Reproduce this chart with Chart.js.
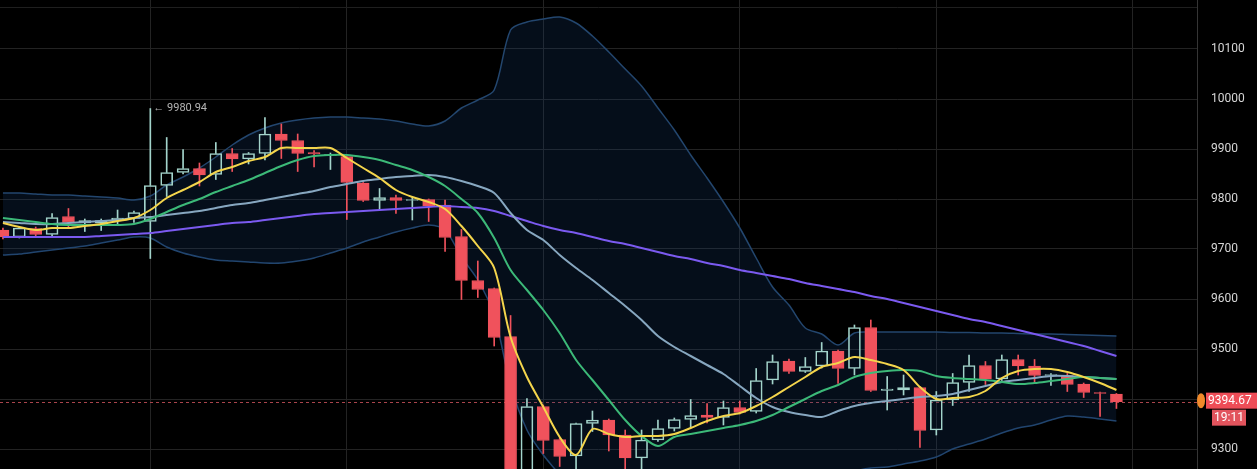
<!DOCTYPE html>
<html>
<head>
<meta charset="utf-8">
<script src="https://cdn.jsdelivr.net/npm/chart.js@4.4.1/dist/chart.umd.min.js"></script>
<style>
  html, body { margin: 0; padding: 0; background: #000; }
  #wrap { width: 1257px; height: 469px; position: relative; }
</style>
</head>
<body>
<div id="wrap"><canvas id="kline"></canvas></div>
<script>
// 5 min candles, x = candle index from the left edge
var opens = [9738, 9724, 9741, 9729, 9765, 9752, 9752, 9758, 9761, 9755,
  9827, 9853, 9861, 9849, 9891, 9880, 9891, 9930, 9917, 9893,
  9887, 9885, 9832, 9797, 9803, 9797, 9799, 9788, 9725, 9637,
  9621, 9525, 9215, 9385, 9319, 9286, 9351, 9358, 9328, 9282,
  9318, 9341, 9359, 9368, 9363, 9383, 9375, 9438, 9476, 9455,
  9466, 9496, 9461, 9543, 9417, 9418, 9423, 9338, 9398, 9433,
  9467, 9440, 9479, 9466, 9447, 9447, 9430, 9413, 9410];
var highs = [9742, 9744, 9744, 9771, 9781, 9760, 9760, 9778, 9776, 9980.94,
  9923, 9899, 9872, 9913, 9901, 9893, 9963, 9950, 9930, 9897,
  9892, 9888, 9833, 9821, 9808, 9803, 9800, 9798, 9739, 9676,
  9622, 9567, 9401, 9388, 9322, 9352, 9376, 9360, 9338, 9338,
  9358, 9362, 9399, 9391, 9396, 9396, 9461, 9488, 9480, 9483,
  9513, 9498, 9548, 9558, 9445, 9448, 9425, 9415, 9451, 9488,
  9475, 9488, 9488, 9479, 9451, 9451, 9432, 9414, 9411];
var lows = [9720, 9722, 9726, 9725, 9743, 9735, 9737, 9750, 9753, 9681,
  9805, 9850, 9826, 9839, 9855, 9870, 9878, 9881, 9855, 9864,
  9859, 9759, 9795, 9779, 9771, 9758, 9755, 9695, 9599, 9603,
  9506, 9190, 9200, 9291, 9265, 9250, 9335, 9296, 9250, 9250,
  9315, 9336, 9343, 9352, 9348, 9370, 9372, 9430, 9451, 9453,
  9462, 9431, 9448, 9415, 9378, 9408, 9303, 9328, 9387, 9415,
  9429, 9437, 9448, 9431, 9427, 9415, 9403, 9365, 9381];
var closes = [9724, 9742, 9729, 9763, 9753, 9757, 9757, 9762, 9773, 9827,
  9853, 9861, 9848, 9891, 9880, 9891, 9930, 9917, 9891, 9890,
  9889, 9833, 9797, 9803, 9797, 9799, 9786, 9723, 9637, 9619,
  9523, 9210, 9385, 9317, 9285, 9351, 9358, 9328, 9282, 9318,
  9341, 9359, 9367, 9363, 9383, 9373, 9437, 9475, 9455, 9465,
  9496, 9461, 9543, 9417, 9420, 9423, 9337, 9398, 9433, 9467,
  9440, 9479, 9466, 9447, 9449, 9429, 9413, 9411, 9394.67];

// moving averages
var ma5 = [9752, 9744, 9738, 9742, 9742, 9746, 9750, 9756, 9762, 9778,
  9802, 9818, 9834, 9854, 9864, 9876, 9884, 9902, 9902, 9902,
  9902, 9882, 9862, 9842, 9818, 9804, 9794, 9780, 9746, 9706,
  9662, 9524, 9444, 9384, 9324, 9288, 9340, 9330, 9324, 9326,
  9326, 9330, 9342, 9356, 9366, 9372, 9386, 9404, 9424, 9444,
  9464, 9472, 9484, 9478, 9470, 9458, 9424, 9400, 9402, 9404,
  9416, 9442, 9456, 9460, 9460, 9454, 9444, 9432, 9418];
var ma10 = [9762, 9758, 9754, 9750, 9748, 9748, 9748, 9748, 9750, 9760,
  9774, 9788, 9800, 9814, 9826, 9838, 9852, 9866, 9878, 9886,
  9888, 9888, 9884, 9878, 9868, 9858, 9844, 9826, 9800, 9772,
  9722, 9658, 9618, 9578, 9532, 9478, 9438, 9398, 9358, 9326,
  9306, 9324, 9330, 9336, 9342, 9348, 9356, 9368, 9384, 9400,
  9416, 9428, 9444, 9452, 9456, 9458, 9456, 9446, 9442, 9440,
  9438, 9434, 9430, 9432, 9436, 9440, 9444, 9442, 9440];
var ma60 = [9724, 9724, 9724, 9724, 9724, 9724, 9726, 9728, 9730, 9732,
  9736, 9740, 9744, 9748, 9752, 9754, 9758, 9762, 9766, 9770,
  9772, 9774, 9776, 9778, 9780, 9782, 9784, 9786, 9784, 9782,
  9776, 9766, 9756, 9746, 9738, 9732, 9724, 9716, 9710, 9702,
  9694, 9686, 9680, 9672, 9666, 9658, 9652, 9646, 9640, 9632,
  9626, 9620, 9614, 9606, 9600, 9592, 9584, 9576, 9568, 9560,
  9554, 9546, 9538, 9530, 9522, 9514, 9506, 9496, 9486];

// bollinger bands
var bbMid = [9754, 9752, 9750, 9750, 9752, 9754, 9756, 9758, 9762, 9764,
  9768, 9772, 9776, 9782, 9788, 9792, 9798, 9804, 9810, 9816,
  9824, 9830, 9836, 9840, 9844, 9846, 9848, 9844, 9836, 9826,
  9812, 9772, 9738, 9718, 9688, 9662, 9638, 9612, 9586, 9558,
  9526, 9504, 9486, 9468, 9450, 9426, 9402, 9384, 9374, 9368,
  9364, 9376, 9386, 9392, 9396, 9400, 9404, 9406, 9410, 9418,
  9426, 9434, 9438, 9442, 9446, 9446, 9444, 9442, 9440];
var bbUpper = [9812, 9812, 9810, 9808, 9808, 9806, 9804, 9802, 9798, 9806,
  9828, 9844, 9862, 9884, 9908, 9928, 9942, 9952, 9958, 9962,
  9964, 9964, 9962, 9960, 9956, 9950, 9946, 9956, 9982, 9998,
  10018, 10138, 10154, 10160, 10164, 10152, 10126, 10094, 10060, 10026,
  9982, 9938, 9888, 9842, 9794, 9742, 9682, 9624, 9588, 9542,
  9530, 9508, 9532, 9534, 9534, 9534, 9534, 9534, 9533, 9533,
  9532, 9532, 9531, 9530, 9530, 9529, 9528, 9527, 9526];
var bbLower = [9688, 9690, 9694, 9698, 9702, 9706, 9712, 9718, 9724, 9722,
  9704, 9692, 9684, 9678, 9676, 9674, 9672, 9672, 9676, 9682,
  9692, 9702, 9714, 9724, 9734, 9742, 9748, 9738, 9684, 9638,
  9568, 9428, 9338, 9288, 9248, 9200, 9160, 9120, 9090, 9070,
  9060, 9055, 9055, 9065, 9080, 9100, 9125, 9150, 9175, 9200,
  9220, 9240, 9255, 9262, 9264, 9270, 9276, 9284, 9300, 9310,
  9320, 9332, 9342, 9348, 9358, 9366, 9364, 9360, 9356];

var yTicks = [9300, 9400, 9500, 9600, 9700, 9800, 9900, 10000, 10100];
var hourMarks = [3, 15, 27, 39, 51, 63];
var lastTime = "19:11";
var lastClose = closes[closes.length - 1];

var upColor = "#a3d4cb";
var downColor = "#f0525c";

// split candles into bodies and wicks (one bar per x in each set)
var upBody = [], downBody = [], upHigh = [], upLow = [], downHigh = [], downLow = [];
closes.forEach(function (c, i) {
  var o = opens[i];
  var bodyHi = Math.max(o, c), bodyLo = Math.min(o, c);
  var rising = c >= o;
  (rising ? upBody : downBody).push({ x: i, y: [bodyLo, bodyHi] });
  if (highs[i] > bodyHi) (rising ? upHigh : downHigh).push({ x: i, y: [bodyHi, highs[i]] });
  if (lows[i] < bodyLo) (rising ? upLow : downLow).push({ x: i, y: [lows[i], bodyLo] });
});

function toPoints(vals) {
  return vals.map(function (v, i) {
    return { x: i, y: v };
  });
}

function lineSet(vals, color, order, extra) {
  var ds = {
    type: "line",
    data: toPoints(vals),
    borderColor: color,
    borderWidth: 2,
    pointRadius: 0,
    tension: 0.3,
    fill: false,
    order: order,
  };
  return Object.assign(ds, extra || {});
}

var stackNo = 0;
function barSet(data, fillColor, lineColor, thickness, order) {
  stackNo++;
  return {
    type: "bar",
    data: data,
    stack: "s" + stackNo,
    backgroundColor: fillColor,
    borderColor: lineColor,
    borderWidth: thickness > 1 ? 1 : 0,
    borderSkipped: false,
    barThickness: thickness,
    grouped: false,
    order: order,
  };
}

var overlay = {
  id: "overlay",
  beforeDatasetsDraw: function (chart) {
    var ctx = chart.ctx;
    var area = chart.chartArea;
    var py = Math.round(chart.scales.y.getPixelForValue(lastClose)) + 0.5;
    ctx.save();
    // thin frame line near the top of the pane
    ctx.strokeStyle = "#1f1f1f";
    ctx.lineWidth = 1;
    ctx.beginPath();
    ctx.moveTo(area.left, area.top + 7.5);
    ctx.lineTo(area.right, area.top + 7.5);
    ctx.stroke();
    // last price line
    ctx.strokeStyle = "#a9444c";
    ctx.setLineDash([3, 3]);
    ctx.beginPath();
    ctx.moveTo(area.left, py);
    ctx.lineTo(area.right, py);
    ctx.stroke();
    ctx.restore();
  },
  afterDraw: function (chart) {
    var ctx = chart.ctx;
    var area = chart.chartArea;
    var xs = chart.scales.x;
    var ys = chart.scales.y;
    var py = ys.getPixelForValue(lastClose);
    ctx.save();
    // last price tag
    ctx.fillStyle = "#ee4d57";
    ctx.fillRect(area.right + 9, py - 9, 51, 16);
    ctx.fillStyle = "#e2545d";
    ctx.fillRect(area.right + 15, py + 8, 34, 16);
    ctx.fillStyle = "#f0892a";
    ctx.beginPath();
    ctx.ellipse(area.right + 4, py - 1, 4, 7.5, 0, 0, Math.PI * 2);
    ctx.fill();
    ctx.fillStyle = "#ffffff";
    ctx.font = "12px Roboto";
    ctx.textBaseline = "middle";
    ctx.textAlign = "left";
    ctx.fillText(lastClose.toFixed(2), area.right + 11, py - 1);
    ctx.fillText(lastTime, area.right + 17, py + 16);

    // note at the highest high
    var hi = 0;
    for (var k = 1; k < highs.length; k++) {
      if (highs[k] > highs[hi]) hi = k;
    }
    ctx.fillStyle = "#b4b4b4";
    ctx.font = "11px Roboto";
    ctx.fillText("\u2190 " + highs[hi].toFixed(2), xs.getPixelForValue(hi) + 3, ys.getPixelForValue(highs[hi]));
    ctx.restore();
  },
};

var ctx = document.getElementById("kline");
new Chart(ctx, {
  type: "bar",
  data: {
    datasets: [
      lineSet(bbUpper, "#23466e", 20, {
        borderWidth: 1.5,
        fill: "+1",
        backgroundColor: "rgba(25, 65, 120, 0.22)",
      }),
      lineSet(bbLower, "#23466e", 20, { borderWidth: 1.5 }),
      barSet(upHigh, upColor, upColor, 1, 12),
      barSet(upLow, upColor, upColor, 1, 12),
      barSet(downHigh, downColor, downColor, 1, 12),
      barSet(downLow, downColor, downColor, 1, 12),
      barSet(upBody, "rgba(0,0,0,0)", upColor, 12, 11),
      barSet(downBody, downColor, downColor, 12, 11),
      lineSet(ma60, "#7b5af0", 4),
      lineSet(bbMid, "#87a7c0", 3),
      lineSet(ma10, "#3cb978", 2),
      lineSet(ma5, "#f4d54c", 1),
    ],
  },
  options: {
    responsive: true,
    maintainAspectRatio: false,
    animation: false,
    layout: { padding: 0, autoPadding: false },
    plugins: {
      legend: { display: false },
      tooltip: { enabled: false },
    },
    scales: {
      x: {
        type: "linear",
        min: -0.18,
        max: 72.92,
        offset: false,
        stacked: false,
        ticks: { display: false },
        grid: { color: "#232323", drawTicks: false },
        border: { display: false },
        afterBuildTicks: function (scale) {
          scale.ticks = hourMarks.map(function (v) {
            return { value: v };
          });
        },
        afterFit: function (scale) {
          scale.height = 0;
          scale.paddingLeft = 0;
          scale.paddingRight = 0;
        },
      },
      y: {
        position: "right",
        min: 9260,
        max: 10198,
        stacked: false,
        grid: { color: "#232323", drawTicks: false },
        border: { display: true, color: "#353535" },
        ticks: {
          color: "#d6d6d6",
          padding: 14,
          font: { family: "Roboto", size: 12 },
          callback: function (v) {
            // the last price tag covers the nearest label
            return Math.abs(v - lastClose) < 20 ? "" : v;
          },
        },
        afterBuildTicks: function (scale) {
          scale.ticks = yTicks.map(function (v) {
            return { value: v };
          });
        },
        afterFit: function (scale) {
          scale.width = 60;
          scale.paddingTop = 0;
          scale.paddingBottom = 0;
        },
      },
    },
  },
  plugins: [overlay],
});
</script>
</body>
</html>
